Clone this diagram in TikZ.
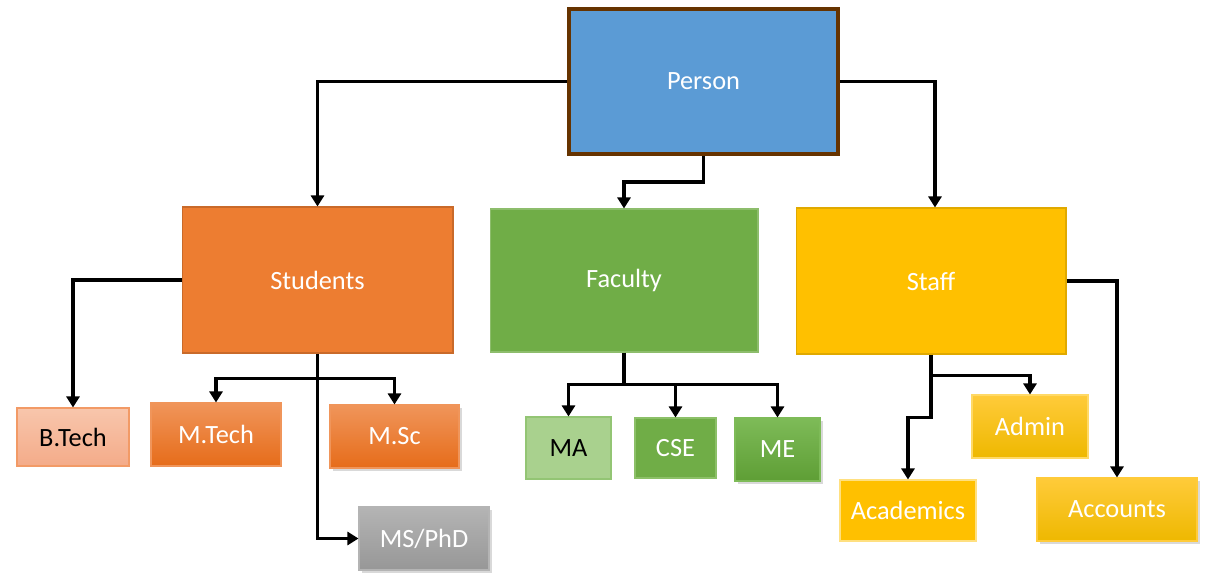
\documentclass[tikz,border=0pt]{standalone}
\usepackage{fontspec}
\setmainfont{Carlito}
\usepackage{tikz}
\usetikzlibrary{arrows.meta, shadows}

\definecolor{personblue}{HTML}{5B9BD5}
\definecolor{personrim}{HTML}{663300}
\definecolor{studorange}{HTML}{ED7D31}
\definecolor{facgreen}{HTML}{70AD47}
\definecolor{staffgold}{HTML}{FFC000}
\definecolor{salmontop}{HTML}{F8C6AC}
\definecolor{salmonbot}{HTML}{F4AB89}
\definecolor{salmonrim}{HTML}{F29A66}
\definecolor{orangetop}{HTML}{F0955A}
\definecolor{orangebot}{HTML}{E66C1A}
\definecolor{greytop}{HTML}{B4B4B4}
\definecolor{greybot}{HTML}{979797}
\definecolor{palegreen}{HTML}{A9D18E}
\definecolor{palegreenrim}{HTML}{93C574}
\definecolor{greenrim}{HTML}{8CC068}
\definecolor{greentop}{HTML}{7EBB58}
\definecolor{greenbot}{HTML}{5E9E35}
\definecolor{goldtop}{HTML}{FFCB3A}
\definecolor{goldbot}{HTML}{EEB800}
\definecolor{goldrim}{HTML}{FFD966}
\definecolor{paleginrim}{HTML}{FFE080}

\begin{document}
\begin{tikzpicture}[
  x=0.02cm, y=-0.02cm,
  font=\fontsize{15}{18}\selectfont,
  box/.style={rectangle, draw, line width=0.6pt, text=white, inner sep=0pt},
  grad/.style 2 args={top color=#1, bottom color=#2},
  lift/.style={drop shadow={shadow xshift=1.6pt, shadow yshift=-1.6pt, opacity=0.3}},
  link/.style={-{Triangle[length=2.2mm, width=2.6mm]}, line width=2.2pt},
]
\useasboundingbox (0,0) rectangle (1205,574);

\node[box, fill=personblue, draw=personrim, line width=2.2pt, minimum width=5.38cm, minimum height=2.9cm] (person) at (703.5,81.5) {Person};
\node[box, fill=studorange, draw=studorange!85!black, minimum width=5.42cm, minimum height=2.92cm] (students) at (317.5,280) {Students};
\node[box, fill=facgreen, draw=facgreen!80!white, minimum width=5.36cm, minimum height=2.86cm] (faculty) at (624,280.5) {Faculty};
\node[box, fill=staffgold, draw=staffgold!88!black, minimum width=5.4cm, minimum height=2.92cm] (staff) at (931,281) {Staff};

\node[box, grad={salmontop}{salmonbot}, draw=salmonrim, text=black, minimum width=2.24cm, minimum height=1.16cm] (btech) at (73,437) {B.Tech};
\node[box, grad={orangetop}{orangebot}, draw=orangetop, minimum width=2.6cm, minimum height=1.26cm] (mtech) at (216,434.5) {M.Tech};
\node[box, grad={orangetop}{orangebot}, draw=orangetop, lift, minimum width=2.58cm, minimum height=1.26cm] (msc) at (394.5,436.5) {M.Sc};
\node[box, grad={greytop}{greybot}, draw=greytop, lift, minimum width=2.6cm, minimum height=1.26cm] (msphd) at (424,538.5) {MS/PhD};

\node[box, fill=palegreen, draw=palegreenrim, text=black, minimum width=1.7cm, minimum height=1.24cm] (ma) at (568.5,448) {MA};
\node[box, fill=facgreen, draw=greenrim, minimum width=1.62cm, minimum height=1.2cm] (cse) at (675.5,448) {CSE};
\node[box, grad={greentop}{greenbot}, draw=greentop, lift, minimum width=1.7cm, minimum height=1.26cm] (me) at (777.5,449.5) {ME};

\node[box, grad={goldtop}{goldbot}, draw=goldrim, minimum width=2.32cm, minimum height=1.26cm] (admin) at (1030,426.5) {Admin};
\node[box, fill=staffgold, draw=paleginrim, minimum width=2.72cm, minimum height=1.22cm] (academics) at (908,510.5) {Academics};
\node[box, grad={goldtop}{goldbot}, draw=goldtop, lift, minimum width=3.2cm, minimum height=1.26cm] (accounts) at (1117,509.5) {Accounts};

\draw[link] (person.west) -| (students.north);
\draw[link] (person.east) -| ([xshift=0.08cm]staff.north);
\draw[link] (person.south) -- ++(0,26) -| (faculty.north);

\path (students.south) ++(0,25) coordinate (sj);
\draw[link] (students.west) -| (btech.north);
\draw[link] (students.south) |- (msphd.west);
\foreach \n in {mtech,msc} \draw[link] (sj) -| (\n.north);

\path (faculty.south) ++(0,32) coordinate (fj);
\draw[line width=2.2pt] (faculty.south) -- (fj);
\foreach \n in {ma,cse,me} \draw[link] (fj) -| (\n.north);

\path (staff.south) ++(0,21) coordinate (tj);
\draw[link] (staff.south) -- (tj) -| (admin.north);
\draw[link] (tj) -- ++(0,42) -| (academics.north);
\draw[link] (staff.east) -| (accounts.north);
\end{tikzpicture}
\end{document}
